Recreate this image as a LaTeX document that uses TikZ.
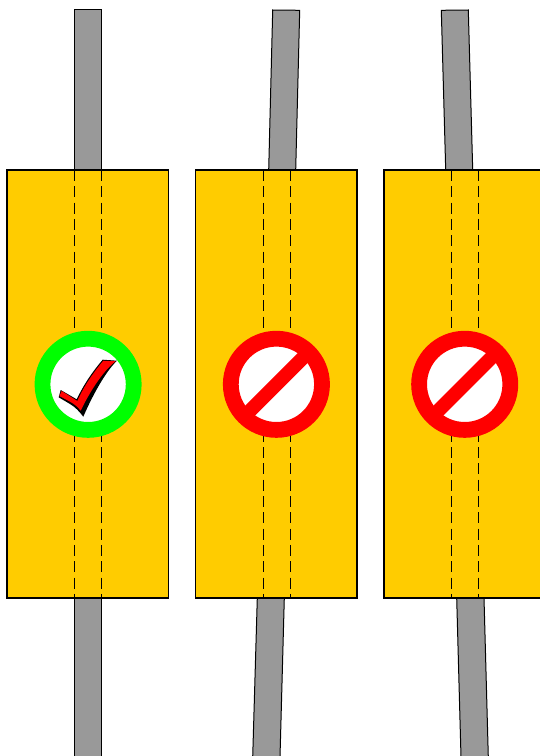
\documentclass[tikz,border=0pt]{standalone}
\usepackage{tikz}
\usepackage{xcolor}
\definecolor{panelyellow}{RGB}{255,204,0}
\definecolor{postgray}{RGB}{153,153,153}
\definecolor{okgreen}{RGB}{0,255,0}
\definecolor{stopred}{RGB}{255,0,0}
\tikzset{
  post/.style={draw=black, line width=1bp, fill=postgray},
  panel/.style={draw=black, line width=1.2bp, fill=panelyellow},
  hidden/.style={line width=1bp, dash pattern=on 11bp off 5.3bp},
  ring/.style={line width=15.8bp, fill=white}
}

\begin{document}
\begin{tikzpicture}[x=1bp, y=-1bp]
  \clip (0,0) rectangle (540,756);
  % Posts above and below the panels
  \draw[post] (74,10) -- (101,10) -- (101,170) -- (74,170) -- cycle;
  \draw[post] (74,598) -- (101,598) -- (101,757) -- (74,757) -- cycle;
  \draw[post] (272.7,10) -- (299.7,10.3) -- (295.7,170) -- (268.7,170) -- cycle;
  \draw[post] (257.3,598) -- (284.3,598) -- (280,757) -- (252.7,757) -- cycle;
  \draw[post] (441.3,10.3) -- (468.3,10) -- (472.7,170) -- (445.7,170) -- cycle;
  \draw[post] (456.7,598) -- (484,598) -- (488.3,757) -- (461,757) -- cycle;
  % Panels with the hidden edges of the posts
  \foreach \xa/\xb/\xc in {7/74/101, 195.5/263.5/290.5, 384/451/478} {
    \draw[panel] (\xa,170) rectangle ++(161.5,428);
    \draw[hidden] (\xb,170) -- (\xb,598);
    \draw[hidden] (\xc,170) -- (\xc,598);
  }
  % Signs
  \draw[ring, draw=okgreen] (88.1,384.3) circle (45.6);
  \foreach \xc in {276.4, 464.7} {
    \draw[ring, draw=stopred] (\xc,384.3) circle (45.6);
    \draw[stopred, line width=14bp] (\xc,384.3) ++(-32,32) -- ++(64,-64);
  }
  % Check mark
  \fill[black] (58.7,397.3) -- (60.7,390) -- (76.7,399.3) .. controls (84,384) and (93,371) .. (102.7,359.7)
    -- (117,360.7) .. controls (107,370) and (94,392) .. (83.3,416.7) .. controls (79,411) and (75,407) .. (70,404) -- cycle;
  \fill[stopred] (59.3,396) -- (61.7,391) -- (77.3,401) .. controls (84,386) and (93,373) .. (103.3,360.7)
    -- (115.7,361.3) .. controls (105,369) and (91,389) .. (80.7,410.7) .. controls (77,406) and (74,404) .. (70,401.7) -- cycle;
\end{tikzpicture}
\end{document}
